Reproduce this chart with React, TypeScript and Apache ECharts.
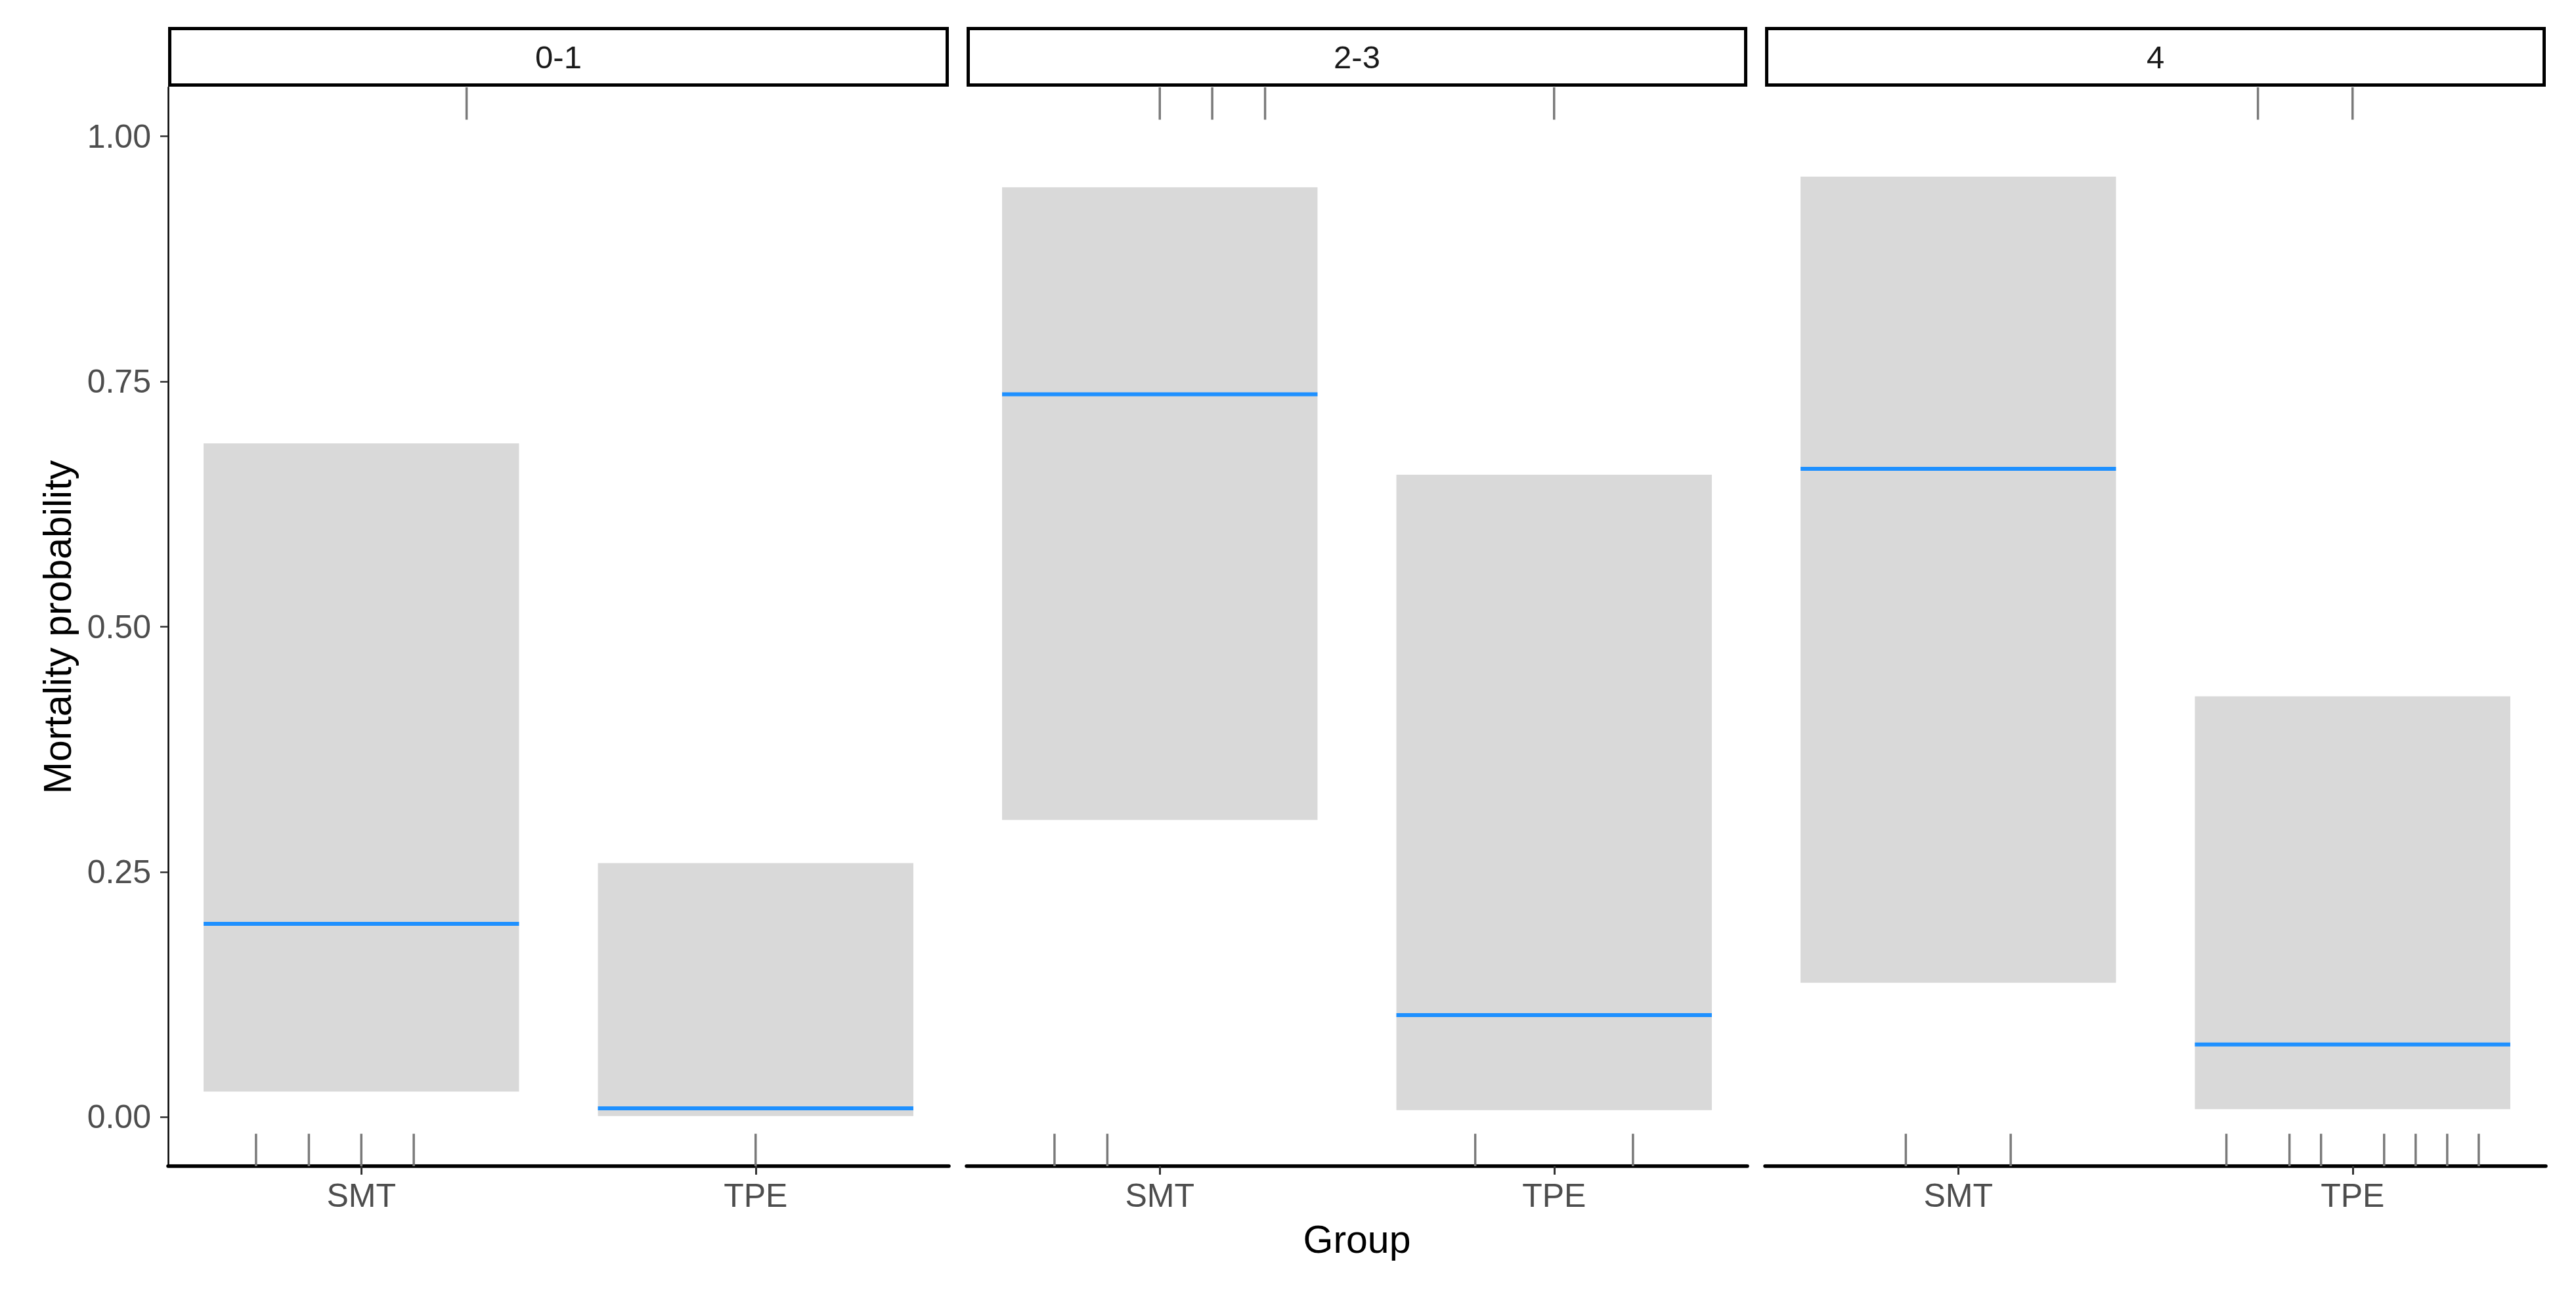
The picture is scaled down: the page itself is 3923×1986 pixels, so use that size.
import React, { useEffect, useRef } from 'react'
import * as echarts from 'echarts'

// facet strata and treatment groups
const strata = ['0-1', '2-3', '4']
const groups = ['SMT', 'TPE']
const groupPos = [1, 2]

// predicted mortality with 95% interval, per stratum: [SMT, TPE]
const estimate = [
  [0.197, 0.009],
  [0.737, 0.104],
  [0.661, 0.074]
]
const lower = [
  [0.026, 0.001],
  [0.303, 0.007],
  [0.137, 0.008]
]
const upper = [
  [0.687, 0.259],
  [0.948, 0.655],
  [0.959, 0.429]
]

// rug positions (jittered group position) for survivors (bottom) and deaths (top)
const rugAlive = [
  [0.733, 0.867, 1.0, 1.133, 2.0],
  [0.733, 0.867, 1.8, 2.2],
  [0.867, 1.133, 1.68, 1.84, 1.92, 2.08, 2.16, 2.24, 2.32]
]
const rugDead = [
  [1.267],
  [1.0, 1.133, 1.267, 2.0],
  [1.76, 2.0]
]

const yTicks = [0, 0.25, 0.5, 0.75, 1]

const FONT = 'Liberation Sans, Arial, sans-serif'
const PANEL_LEFT = 256
const PANEL_STEP = 1216
const PANEL_W = 1189
const PANEL_TOP = 133
const PANEL_H = 1643
const HALF_W = 0.4
const Y_MIN = -0.05
const Y_MAX = 1.05
const RUG = 0.033

const App: React.FC = () => {
  const chartRef = useRef<HTMLDivElement>(null)

  useEffect(() => {
    if (!chartRef.current) return
    const chart = echarts.init(chartRef.current, undefined, { renderer: 'svg' })

    const grids = strata.map((_, i) => ({
      left: PANEL_LEFT + PANEL_STEP * i,
      top: PANEL_TOP,
      width: PANEL_W,
      height: PANEL_H
    }))

    const xAxes = strata.map((_, i) => ({
      type: 'value',
      gridIndex: i,
      min: 0.51,
      max: 2.49,
      splitLine: { show: false },
      axisLine: { show: true, onZero: false, lineStyle: { color: '#000', width: 5.5 } },
      axisTick: {
        show: true,
        customValues: groupPos,
        length: 13,
        lineStyle: { color: '#333', width: 3 }
      },
      axisLabel: {
        show: true,
        customValues: groupPos,
        formatter: (v: number) => groups[Math.round(v) - 1] ?? '',
        fontSize: 50,
        color: '#4D4D4D',
        fontFamily: FONT,
        margin: 20
      }
    }))

    const yAxes = strata.map((_, i) => ({
      type: 'value',
      gridIndex: i,
      min: Y_MIN,
      max: Y_MAX,
      show: i === 0,
      splitLine: { show: false },
      axisLine: { show: true, onZero: false, lineStyle: { color: '#000', width: 2.5 } },
      axisTick: {
        show: true,
        customValues: yTicks,
        length: 12,
        lineStyle: { color: '#333', width: 2.5 }
      },
      axisLabel: {
        show: true,
        customValues: yTicks,
        formatter: (v: number) => v.toFixed(2),
        fontSize: 50,
        color: '#4D4D4D',
        fontFamily: FONT,
        margin: 26
      }
    }))

    const boxSeries = strata.map((_, i) => ({
      type: 'custom',
      xAxisIndex: i,
      yAxisIndex: i,
      silent: true,
      data: groupPos.map((x, g) => [x, lower[i][g], estimate[i][g], upper[i][g]]),
      renderItem: (params: any, api: any) => {
        const x = api.value(0)
        const lo = api.value(1)
        const mid = api.value(2)
        const hi = api.value(3)
        const tl = api.coord([x - HALF_W, hi])
        const br = api.coord([x + HALF_W, lo])
        const ml = api.coord([x - HALF_W, mid])
        const mr = api.coord([x + HALF_W, mid])
        return {
          type: 'group',
          children: [
            {
              type: 'rect',
              shape: { x: tl[0], y: tl[1], width: br[0] - tl[0], height: br[1] - tl[1] },
              style: { fill: '#D9D9D9' }
            },
            {
              type: 'line',
              shape: { x1: ml[0], y1: ml[1], x2: mr[0], y2: mr[1] },
              style: { stroke: '#1E90FF', lineWidth: 6 }
            }
          ]
        }
      }
    }))

    const rugSeries = strata.map((_, i) => ({
      type: 'custom',
      xAxisIndex: i,
      yAxisIndex: i,
      silent: true,
      data: [
        ...rugAlive[i].map((x) => [x, 0]),
        ...rugDead[i].map((x) => [x, 1])
      ],
      renderItem: (params: any, api: any) => {
        const x = api.value(0)
        const top = api.value(1) === 1
        const a = api.coord([x, top ? Y_MAX : Y_MIN])
        const b = api.coord([x, top ? Y_MAX - RUG : Y_MIN + RUG])
        return {
          type: 'line',
          shape: { x1: a[0], y1: a[1], x2: b[0], y2: b[1] },
          style: { stroke: '#7A7A7A', lineWidth: 3.5 }
        }
      }
    }))

    const stripGraphics: any[] = []
    strata.forEach((s, i) => {
      const left = PANEL_LEFT + PANEL_STEP * i
      stripGraphics.push({
        type: 'rect',
        shape: { x: left + 2.5, y: 43.5, width: PANEL_W - 5, height: 86 },
        style: { fill: '#fff', stroke: '#000', lineWidth: 5 }
      })
      stripGraphics.push({
        type: 'text',
        x: left + PANEL_W / 2,
        y: 87,
        style: {
          text: s,
          fontSize: 49,
          fontFamily: FONT,
          fill: '#1A1A1A',
          align: 'center',
          verticalAlign: 'middle'
        }
      })
    })

    const option = {
      animation: false,
      backgroundColor: '#fff',
      grid: grids,
      xAxis: xAxes,
      yAxis: yAxes,
      series: [...boxSeries, ...rugSeries],
      graphic: [
        ...stripGraphics,
        {
          type: 'text',
          x: 88,
          y: 955,
          rotation: Math.PI / 2,
          style: {
            text: 'Mortality probability',
            fontSize: 59,
            fontFamily: FONT,
            fill: '#000',
            align: 'center',
            verticalAlign: 'middle'
          }
        },
        {
          type: 'text',
          x: PANEL_LEFT + PANEL_STEP + PANEL_W / 2,
          y: 1888,
          style: {
            text: 'Group',
            fontSize: 59,
            fontFamily: FONT,
            fill: '#000',
            align: 'center',
            verticalAlign: 'middle'
          }
        }
      ]
    }

    chart.setOption(option)

    const handleResize = () => chart.resize()
    window.addEventListener('resize', handleResize)
    return () => {
      window.removeEventListener('resize', handleResize)
      chart.dispose()
    }
  }, [])

  return (
    <div
      ref={chartRef}
      style={{ position: 'fixed', left: 0, top: 0, width: 3923, height: 1986, background: '#fff' }}
    />
  )
}

export default App
